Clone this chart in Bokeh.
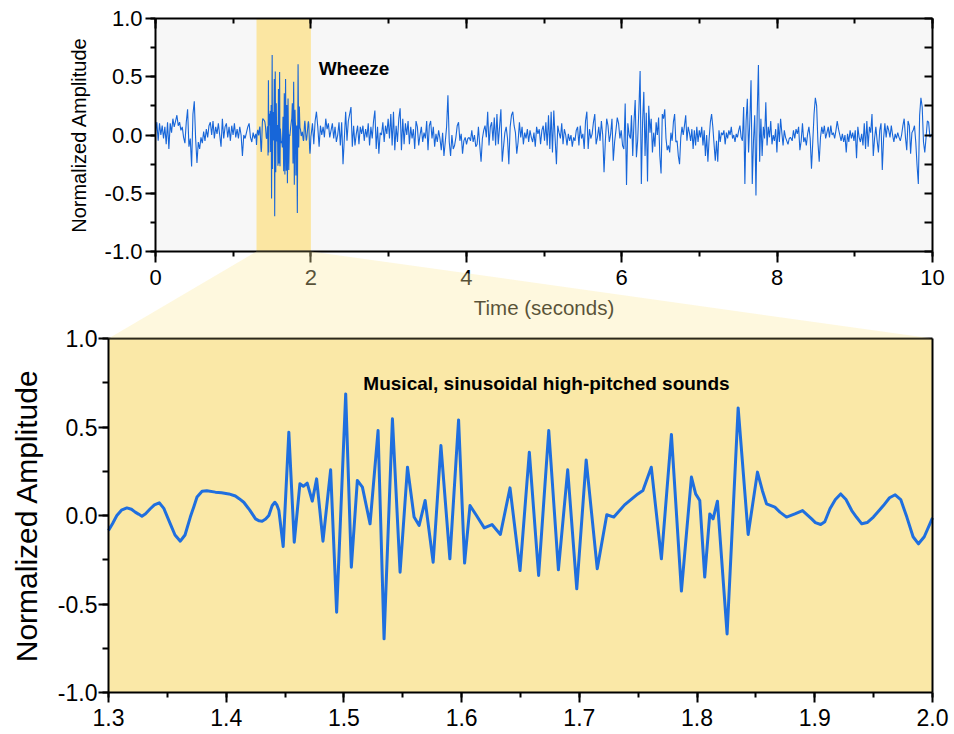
import numpy as np
from bokeh.plotting import figure
from bokeh.models import (LinearAxis, SingleIntervalTicker, FixedTicker, PrintfTickFormatter,
                          CustomJSTickFormatter, Range1d, Label)
from bokeh.embed import file_html
from bokeh.resources import INLINE

FONT = "Liberation Sans"

# ---------------- data ----------------
# zoomed wheeze segment (1.3 s - 2.0 s): time (s), normalized amplitude
t_zoom = [1.300, 1.3035, 1.3071, 1.3110, 1.3156, 1.3195, 1.3227, 1.3255, 1.3284, 1.3315,
          1.3355, 1.3390, 1.3431, 1.3470, 1.3525, 1.3565, 1.3610, 1.3650, 1.3695, 1.3725,
          1.3752, 1.3795, 1.3835, 1.3908, 1.3960, 1.4022, 1.4078, 1.4110, 1.4149, 1.4200,
          1.4249, 1.4280, 1.4305, 1.4335, 1.4362, 1.4390, 1.4413, 1.4430, 1.4447, 1.4484,
          1.4532, 1.4578, 1.4626, 1.4655, 1.4688, 1.4731, 1.4768, 1.4822, 1.4887, 1.4938,
          1.5015, 1.5063, 1.5114, 1.5157, 1.5222, 1.5290, 1.5341, 1.5412, 1.5477, 1.5540,
          1.5596, 1.5639, 1.5690, 1.5758, 1.5824, 1.5900, 1.5974, 1.6025, 1.6071, 1.6122,
          1.6192, 1.6258, 1.6329, 1.6411, 1.6496, 1.6575, 1.6654, 1.6740, 1.6822, 1.6901,
          1.6978, 1.7058, 1.7152, 1.7233, 1.7293, 1.7384, 1.7497, 1.7540, 1.7611, 1.7697,
          1.7782, 1.7867, 1.7952, 1.7988, 1.8023, 1.8065, 1.8108, 1.8136, 1.8173, 1.8255,
          1.8349, 1.8434, 1.8513, 1.8555, 1.8590, 1.8661, 1.8704, 1.8760, 1.8831, 1.8896,
          1.8973, 1.9005, 1.9050, 1.9085, 1.9129, 1.9175, 1.9220, 1.9265, 1.9314, 1.9355,
          1.9399, 1.9445, 1.9498, 1.9583, 1.9635, 1.9683, 1.9730, 1.9782, 1.9835, 1.9881,
          1.9930, 2.000]
a_zoom = [-0.085, -0.045, 0.000, 0.030, 0.043, 0.035, 0.019, 0.008, -0.004, 0.010,
          0.038, 0.060, 0.072, 0.040, -0.047, -0.110, -0.145, -0.110, -0.009, 0.050,
          0.104, 0.137, 0.140, 0.132, 0.128, 0.122, 0.110, 0.095, 0.075, 0.030,
          -0.019, -0.030, -0.032, -0.020, 0.000, 0.055, 0.075, 0.060, 0.030, -0.175,
          0.471, -0.151, 0.179, 0.165, 0.183, 0.081, 0.207, -0.145, 0.258, -0.546,
          0.687, -0.292, 0.198, 0.160, -0.047, 0.480, -0.697, 0.546, -0.320, 0.273,
          -0.009, -0.056, 0.085, -0.264, 0.395, -0.245, 0.540, -0.269, 0.056, 0.004,
          -0.070, -0.051, -0.107, 0.156, -0.311, 0.358, -0.339, 0.480, -0.307, 0.258,
          -0.414, 0.314, -0.301, 0.004, -0.009, 0.060, 0.122, 0.141, 0.273, -0.245,
          0.458, -0.427, 0.217, 0.122, 0.085, -0.348, 0.009, -0.019, 0.081, -0.669,
          0.608, -0.107, 0.245, 0.140, 0.066, 0.047, 0.019, -0.009, 0.009, 0.028,
          -0.019, -0.040, -0.051, -0.035, 0.038, 0.090, 0.122, 0.090, 0.028, -0.010,
          -0.047, -0.040, -0.009, 0.056, 0.100, 0.117, 0.090, -0.009, -0.120, -0.160,
          -0.120, -0.013]

# full 10 s recording, uniformly sampled segments (start s, end s, amplitudes)
seg1_span = (0.000, 1.291)
seg1_amp = [0.02, 0.11, -0.05, 0.10, 0.00, 0.08, -0.03, 0.07, -0.08, 0.11, -0.12, 0.10, 0.02, 0.14,
            0.07, 0.12, 0.17, 0.08, 0.11, 0.04, 0.07, -0.02, -0.07, 0.11, 0.22, -0.10, -0.03, -0.27,
            0.18, 0.29, -0.03, -0.24, -0.06, -0.12, -0.02, -0.07, 0.03, -0.05, 0.05, -0.02, 0.08,
            0.11, 0.00, 0.12, -0.03, 0.07, 0.01, 0.10, 0.00, -0.10, 0.14, -0.03, 0.07, 0.10, -0.02,
            0.07, -0.05, 0.08, 0.00, 0.10, -0.02, 0.05, -0.03, 0.07, 0.00, -0.18, 0.00, -0.03, 0.02,
            0.07, 0.10, -0.02, -0.06, 0.02, -0.03, 0.01]
seg2_span = (2.003, 4.054)
seg2_amp = [0.00, 0.10, -0.08, 0.12, 0.20, 0.07, -0.10, 0.08, 0.00, 0.07, -0.02, 0.14, 0.05, 0.10,
            -0.02, 0.04, 0.10, -0.03, 0.07, -0.06, 0.00, 0.11, -0.09, 0.11, -0.25, -0.03, 0.20, -0.05,
            0.12, 0.18, 0.24, -0.10, 0.08, -0.09, 0.01, 0.08, -0.08, 0.07, 0.01, 0.08, -0.05, 0.05,
            -0.02, 0.10, -0.09, 0.07, -0.03, 0.12, 0.21, -0.12, 0.07, -0.16, 0.02, 0.00, 0.11, -0.06,
            0.08, 0.01, 0.14, -0.03, 0.18, -0.09, 0.20, -0.13, 0.08, -0.06, 0.14, 0.23, -0.13, 0.14,
            -0.08, 0.10, 0.00, 0.12, -0.08, 0.07, -0.03, 0.05, -0.12, 0.12, 0.07, -0.09, 0.00, 0.07,
            -0.06, 0.02, -0.03, 0.12, -0.13, 0.08, 0.12, -0.03, 0.07, -0.10, 0.01, -0.06, 0.04, -0.03,
            -0.13, 0.02, -0.18, -0.06, 0.07, 0.34, -0.06, -0.18, 0.00, -0.12, -0.09, -0.02, 0.08,
            0.11, -0.05, 0.01, -0.16, -0.05, -0.02, -0.08, -0.03, -0.02, -0.05]
seg3_span = (4.071, 6.113)
seg3_amp = [0.04, -0.06, 0.00, -0.10, -0.08, 0.07, -0.09, -0.23, -0.03, 0.04, 0.08, -0.02, 0.20,
            -0.09, 0.07, 0.11, -0.05, 0.15, -0.09, 0.18, -0.08, 0.07, 0.22, -0.23, -0.10, 0.02, 0.07,
            -0.03, -0.25, 0.07, 0.17, 0.20, 0.08, 0.02, -0.16, -0.06, 0.11, -0.02, 0.07, -0.08, 0.02,
            -0.03, 0.05, -0.06, 0.04, -0.02, -0.06, 0.02, -0.10, 0.07, 0.01, 0.05, -0.08, 0.04, 0.08,
            -0.05, 0.11, -0.09, 0.17, -0.12, 0.20, -0.15, 0.21, -0.03, -0.25, 0.08, 0.02, -0.03, 0.10,
            -0.08, 0.05, 0.00, -0.09, 0.01, -0.05, 0.00, -0.10, -0.02, -0.05, 0.04, 0.07, -0.09, 0.08,
            -0.03, 0.01, -0.12, 0.12, 0.20, -0.12, 0.05, -0.03, 0.01, 0.11, 0.18, -0.08, -0.02, 0.07,
            -0.05, 0.12, 0.00, -0.32, -0.05, 0.14, 0.08, -0.06, 0.01, 0.14, -0.22, -0.06, 0.04, 0.15,
            0.10, -0.03, 0.04, -0.09, -0.12, 0.27, -0.43, 0.10, 0.00, -0.03]
seg4_span = (6.126, 8.172)
seg4_amp = [0.17, -0.18, 0.11, 0.30, -0.19, -0.05, 0.22, 0.55, -0.42, 0.11, 0.37, -0.18, 0.19, -0.40,
            0.25, 0.02,
            0.14, -0.15, 0.02, -0.10, 0.11, 0.00, 0.15, -0.18, -0.33, 0.18, 0.14, 0.22, -0.03, -0.13,
            -0.09, -0.15, 0.02, -0.05, 0.11,
            0.18, -0.06, -0.05, -0.18, -0.25, -0.02, 0.07, 0.00, 0.08, 0.17, -0.05, 0.07, 0.02, -0.05,
            0.05, -0.12, 0.04, -0.09, 0.07, -0.06, 0.04, -0.02, 0.07, -0.09, 0.04, -0.18, 0.00, -0.23,
            -0.03, 0.11, 0.18, 0.07, -0.08, -0.22, -0.05, -0.23, 0.04, -0.06, 0.02, 0.00, 0.04, -0.08,
            0.02, -0.03, 0.04, 0.00, 0.07, -0.03, 0.00, -0.06, 0.01, -0.02, 0.04, 0.08, -0.02, -0.05,
            0.24, -0.42, 0.12, 0.31, -0.15, 0.11, 0.47, -0.42, -0.05, 0.17, -0.52, 0.18, 0.60, -0.23,
            0.14, -0.18, 0.07, -0.03, 0.28,
            -0.09, 0.07, -0.02, 0.12, -0.08, 0.00, -0.05, 0.05, -0.15, 0.10, -0.06, 0.14, 0.02, -0.09,
            0.04, -0.02, -0.05, -0.08, -0.03, -0.02]
seg5_span = (8.194, 10.000)
seg5_amp = [-0.05, 0.04, -0.03, 0.05, 0.01, 0.07, -0.13, -0.05, 0.10, -0.06, -0.02, -0.09, 0.01, 0.07,
            -0.03, -0.29, -0.06, 0.18, 0.32, 0.25, -0.06, -0.23,
            -0.02, 0.07, 0.01, 0.08, -0.03, 0.02, 0.07, -0.02, 0.08, 0.00, 0.02, -0.03, 0.04, 0.12,
            0.05, 0.00, -0.05, 0.01, -0.06, 0.00, -0.15, 0.01, -0.06, 0.04, -0.03, 0.02, -0.05, 0.04,
            -0.20, 0.07, -0.02, -0.06, 0.01, -0.09, 0.10, -0.12, 0.12, -0.10, 0.07, 0.02, 0.18, -0.18,
            -0.03, 0.07, -0.05, -0.15, 0.04, 0.10, -0.30, -0.03, 0.10, -0.02, 0.08, 0.04, -0.02, 0.08,
            0.00, -0.06, 0.01, -0.03, 0.02, -0.02, -0.05, 0.00, 0.08, 0.14, -0.02, -0.13, 0.12, 0.08,
            -0.16, 0.02, 0.04, 0.08, -0.06, -0.26, -0.42, 0.17, 0.32, 0.24, -0.06, -0.15, -0.02, 0.12,
            0.11, -0.02, 0.00, 0.01]

full_window = (0.0, 10.0)
zoom_window = (1.3, 2.0)
amp_limits = (-1.0, 1.0)

def seg_times(span, amps):
    return np.linspace(span[0], span[1], len(amps))

t_full = np.concatenate([seg_times(seg1_span, seg1_amp), np.array(t_zoom),
                         seg_times(seg2_span, seg2_amp), seg_times(seg3_span, seg3_amp),
                         seg_times(seg4_span, seg4_amp), seg_times(seg5_span, seg5_amp)])
a_full = np.concatenate([seg1_amp, a_zoom, seg2_amp, seg3_amp, seg4_amp, seg5_amp])

# ---------------- layout geometry (canvas px) ----------------
W, H = 950, 730
TOP_L, TOP_R, TOP_T, TOP_B = 155, 932, 18, 251      # top panel box
BOT_L, BOT_R, BOT_T, BOT_B = 108, 932, 338, 692     # bottom panel box

tx_per_px = (full_window[1] - full_window[0]) / (TOP_R - TOP_L)
ty_per_px = (amp_limits[1] - amp_limits[0]) / (TOP_B - TOP_T)
bx_per_px = (zoom_window[1] - zoom_window[0]) / (BOT_R - BOT_L)
by_per_px = (amp_limits[1] - amp_limits[0]) / (BOT_B - BOT_T)

def tx(px): return full_window[0] + (px - TOP_L) * tx_per_px
def ty(py): return amp_limits[1] - (py - TOP_T) * ty_per_px
def bx(px): return zoom_window[0] + (px - BOT_L) * bx_per_px
def by(py): return amp_limits[1] - (py - BOT_T) * by_per_px

BLUE = "#1766d9"
NO_LABEL = CustomJSTickFormatter(code="return ''")

# one frame covering the whole canvas; each panel has its own pair of ranges
p = figure(width=W, height=H, x_range=Range1d(tx(0), tx(W)), y_range=Range1d(ty(H), ty(0)),
           output_backend="svg", toolbar_location=None,
           x_axis_location=None, y_axis_location=None,
           min_border_left=0, min_border_right=0, min_border_top=0, min_border_bottom=0,
           background_fill_color="white", border_fill_color="white")
p.extra_x_ranges = {"zoom": Range1d(bx(0), bx(W))}
p.extra_y_ranges = {"zoom": Range1d(by(H), by(0))}
p.grid.visible = False
p.outline_line_color = None


def make_axis(ticker, fmt=None, size="22px", tick_out=(10, 5), tick_in=(0, 0), standoff=3, **kw):
    ax = LinearAxis(ticker=ticker, **kw)
    ax.formatter = fmt if fmt is not None else NO_LABEL
    ax.major_label_text_font = FONT
    ax.major_label_text_font_size = size
    ax.major_label_text_color = "black"
    ax.major_label_standoff = standoff
    ax.axis_line_width = 2
    ax.axis_line_color = "black"
    ax.major_tick_line_width = 2
    ax.minor_tick_line_width = 2
    ax.major_tick_out, ax.minor_tick_out = tick_out
    ax.major_tick_in, ax.minor_tick_in = tick_in
    return ax

def title(text, x, y, size, angle=0.0, **kw):
    return Label(x=x, y=y, text=text, angle=angle, text_font=FONT, text_font_size=size,
                 text_align="center", text_baseline="middle", text_color="black", **kw)

# ---- top panel ----
p.quad(left=full_window[0], right=full_window[1], bottom=amp_limits[0], top=amp_limits[1],
       fill_color="#f7f7f7", line_color=None, level="underlay")
p.quad(left=zoom_window[0], right=zoom_window[1], bottom=amp_limits[0], top=amp_limits[1],
       fill_color="#fbe6a2", line_color=None, level="underlay")
p.line(t_full, a_full, line_color=BLUE, line_width=1.1)

p.add_layout(make_axis(SingleIntervalTicker(interval=0.5, num_minor_ticks=2),
                       PrintfTickFormatter(format="%.1f"), standoff=3,
                       fixed_location=full_window[0], bounds=amp_limits), "left")
p.add_layout(make_axis(SingleIntervalTicker(interval=2, num_minor_ticks=2),
                       PrintfTickFormatter(format="%d"), tick_out=(11, 5), standoff=7,
                       fixed_location=amp_limits[0], bounds=full_window), "below")
p.add_layout(make_axis(SingleIntervalTicker(interval=2, num_minor_ticks=2), tick_out=(0, 0),
                       tick_in=(10, 5), fixed_location=amp_limits[1], bounds=full_window), "above")
p.add_layout(make_axis(SingleIntervalTicker(interval=0.25, num_minor_ticks=1), tick_out=(0, 0),
                       tick_in=(8, 0), fixed_location=full_window[1], bounds=amp_limits), "right")

p.add_layout(title("Normalized Amplitude", tx(78), 0.0, "20px", angle=np.pi / 2))
p.add_layout(title("Time (seconds)", 5.0, ty(307), "20.5px"))
p.add_layout(Label(x=2.1, y=0.57, text="Wheeze", text_font=FONT, text_font_size="19px",
                   text_font_style="bold", text_baseline="middle", text_color="black"))

# ---- bottom panel ----
Z = dict(x_range_name="zoom", y_range_name="zoom")
p.quad(left=zoom_window[0], right=zoom_window[1], bottom=amp_limits[0], top=amp_limits[1],
       fill_color="#fae8a7", line_color=None, level="underlay", **Z)
p.line(t_zoom, a_zoom, line_color="#1f6fdf", line_width=3, line_join="round", **Z)

p.add_layout(make_axis(SingleIntervalTicker(interval=0.5, num_minor_ticks=2),
                       PrintfTickFormatter(format="%.1f"), size="23px", tick_out=(10, 6),
                       standoff=1, fixed_location=zoom_window[0], bounds=amp_limits, **Z), "left")
p.add_layout(make_axis(SingleIntervalTicker(interval=0.1, num_minor_ticks=2),
                       PrintfTickFormatter(format="%.1f"), size="23px", tick_out=(10, 5),
                       standoff=6, fixed_location=amp_limits[0], bounds=zoom_window, **Z), "below")
p.add_layout(make_axis(FixedTicker(ticks=[]), tick_out=(0, 0),
                       fixed_location=amp_limits[1], bounds=zoom_window, **Z), "above")
p.add_layout(make_axis(FixedTicker(ticks=[]), tick_out=(0, 0),
                       fixed_location=zoom_window[1], bounds=amp_limits, **Z), "right")

p.add_layout(title("Normalized Amplitude", bx(26), 0.0, "30px", angle=np.pi / 2, **Z))
p.add_layout(Label(x=bx(546), y=by(383), text="Musical, sinusoidal high-pitched sounds",
                   text_font=FONT, text_font_size="19px", text_font_style="bold",
                   text_align="center", text_baseline="middle", text_color="black", **Z))

# ---- connector from the zoom window of the top axis to the lower panel ----
p.patch(x=[zoom_window[0], zoom_window[1], tx(BOT_R), tx(BOT_L)],
        y=[amp_limits[0], amp_limits[0], ty(BOT_T), ty(BOT_T)],
        fill_color="#fbeaa0", fill_alpha=0.35, line_color=None, level="overlay")

open("out.html", "w").write(file_html(p, INLINE))
